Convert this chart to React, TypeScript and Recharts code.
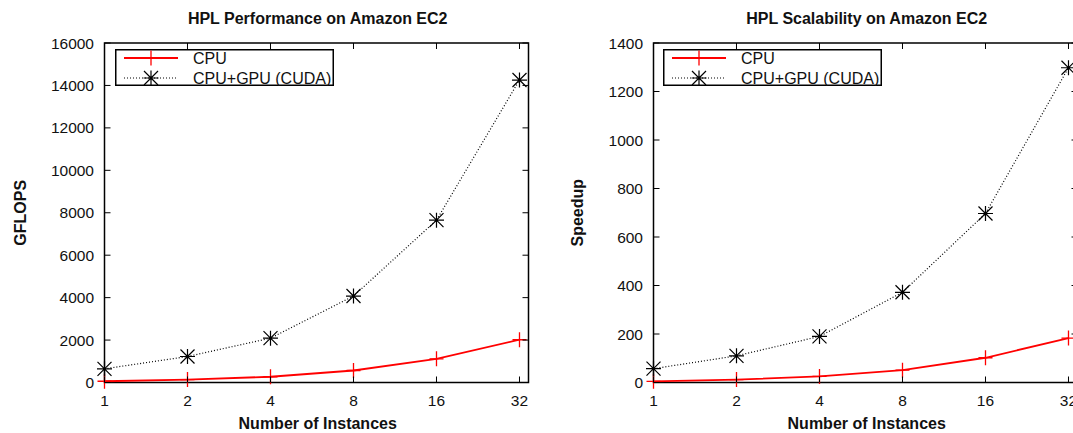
import { LineChart, Line, XAxis, YAxis, ReferenceArea, Legend } from 'recharts';

const INSTANCES = [1, 2, 4, 8, 16, 32];
const CPU_GFLOPS = [60, 140, 270, 565, 1115, 2015];
const GPU_GFLOPS = [645, 1225, 2090, 4075, 7650, 14255];
const CPU_SPEEDUP = [5, 12, 25, 51, 102, 183];
const GPU_SPEEDUP = [57, 110, 190, 372, 697, 1298];
const GFLOPS_TICKS = [0, 2000, 4000, 6000, 8000, 10000, 12000, 14000, 16000];
const SPEEDUP_TICKS = [0, 200, 400, 600, 800, 1000, 1200, 1400];
const X_MAX = 34.5;

const FONT = '"Liberation Sans", Arial, Helvetica, sans-serif';
const TEXT = '#111';
const RED = '#ff0000';

// panel geometry (same for both panels)
const CHART_W = 545;
const CHART_H = 433;
const PLOT_LEFT = 104.5;
const PLOT_TOP = 43;
const PLOT_W = 424;
const PLOT_H = 339.5;
const PLOT_RIGHT = PLOT_LEFT + PLOT_W;
const TICK_LEN = 6;
const CENTER_X = 317.7;

function PlusDot(props: any) {
  const { cx, cy, index } = props;
  if (cx == null || cy == null) return null;
  return (
    <path
      key={`cpu-${index}`}
      d={`M${cx - 7},${cy}H${cx + 7}M${cx},${cy - 7.5}V${cy + 7.5}`}
      stroke={RED}
      strokeWidth={1.3}
      fill="none"
    />
  );
}

function StarDot(props: any) {
  const { cx, cy, index } = props;
  if (cx == null || cy == null) return null;
  return (
    <path
      key={`gpu-${index}`}
      d={`M${cx - 7.5},${cy}H${cx + 7.5}M${cx},${cy - 7.5}V${cy + 7.5}M${cx - 7},${cy - 7}L${cx + 7},${cy + 7}M${cx - 7},${cy + 7}L${cx + 7},${cy - 7}`}
      stroke="#000"
      strokeWidth={1.2}
      fill="none"
    />
  );
}

function XTick(props: any) {
  const { x, y, payload } = props;
  return (
    <g>
      <line x1={x} y1={y} x2={x} y2={y - TICK_LEN} stroke="#000" strokeWidth={1} />
      <line x1={x} y1={PLOT_TOP} x2={x} y2={PLOT_TOP + TICK_LEN} stroke="#000" strokeWidth={1} />
      <text x={x} y={y + 23} textAnchor="middle" fontFamily={FONT} fontSize={15.5} fill={TEXT}>
        {payload.value}
      </text>
    </g>
  );
}

function YTick(props: any) {
  const { x, y, payload } = props;
  return (
    <g>
      <line x1={x} y1={y} x2={x + TICK_LEN} y2={y} stroke="#000" strokeWidth={1} />
      <line x1={PLOT_RIGHT} y1={y} x2={PLOT_RIGHT - TICK_LEN} y2={y} stroke="#000" strokeWidth={1} />
      <text x={x - 10.5} y={y + 5.5} textAnchor="end" fontFamily={FONT} fontSize={15.5} fill={TEXT}>
        {payload.value}
      </text>
    </g>
  );
}

function LegendBox() {
  return (
    <svg width={219} height={37} style={{ display: 'block' }}>
      <rect x={0.75} y={0.75} width={217.5} height={35.5} fill="#fff" stroke="#000" strokeWidth={1.5} />
      <line x1={9} y1={9} x2={63} y2={9} stroke={RED} strokeWidth={1.8} />
      <PlusDot cx={36} cy={9} index="legend" />
      <text x={78} y={14.5} fontFamily={FONT} fontSize={16} fill={TEXT}>CPU</text>
      <line x1={9} y1={29} x2={63} y2={29} stroke="#000" strokeWidth={1.2} strokeDasharray="1 2" />
      <StarDot cx={36} cy={29} index="legend" />
      <text x={78} y={34.5} fontFamily={FONT} fontSize={16} fill={TEXT}>CPU+GPU (CUDA)</text>
    </svg>
  );
}

function Panel({ left, title, yLabel, yLabelX, cpu, gpu, yTicks }: {
  left: number;
  title: string;
  yLabel: string;
  yLabelX: number;
  cpu: number[];
  gpu: number[];
  yTicks: number[];
}) {
  const data = INSTANCES.map((n, i) => ({ n, cpu: cpu[i], gpu: gpu[i] }));
  const yMax = yTicks[yTicks.length - 1];
  const midY = PLOT_TOP + PLOT_H / 2;

  return (
    <div style={{ position: 'absolute', left, top: 0, width: CHART_W, height: CHART_H }}>
      <LineChart
        width={CHART_W}
        height={CHART_H}
        data={data}
        margin={{ top: PLOT_TOP, right: CHART_W - PLOT_RIGHT, bottom: 20.5, left: PLOT_LEFT - 60 }}
      >
        <XAxis
          dataKey="n"
          type="number"
          scale="log"
          domain={[1, X_MAX]}
          ticks={INSTANCES}
          interval={0}
          height={30}
          axisLine={false}
          tickLine={false}
          tickSize={0}
          tickMargin={0}
          tick={XTick}
        />
        <YAxis
          type="number"
          domain={[0, yMax]}
          ticks={yTicks}
          interval={0}
          width={60}
          axisLine={false}
          tickLine={false}
          tickSize={0}
          tickMargin={0}
          tick={YTick}
        />
        <ReferenceArea x1={1} x2={X_MAX} y1={0} y2={yMax} fill="none" fillOpacity={0} stroke="#000" strokeWidth={1.5} />
        <Line
          dataKey="cpu"
          name="CPU"
          type="linear"
          stroke={RED}
          strokeWidth={1.8}
          dot={PlusDot}
          activeDot={false}
          isAnimationActive={false}
        />
        <Line
          dataKey="gpu"
          name="CPU+GPU (CUDA)"
          type="linear"
          stroke="#000"
          strokeWidth={1.2}
          strokeDasharray="1 2"
          dot={StarDot}
          activeDot={false}
          isAnimationActive={false}
        />
        <Legend
          layout="vertical"
          align="center"
          verticalAlign="middle"
          wrapperStyle={{ left: 114.5, top: 49, width: 219, height: 37 }}
          content={() => <LegendBox />}
        />
      </LineChart>
      <svg
        width={CHART_W}
        height={CHART_H}
        style={{ position: 'absolute', left: 0, top: 0, pointerEvents: 'none' }}
      >
        <text x={CENTER_X} y={24} textAnchor="middle" fontFamily={FONT} fontSize={16} fontWeight="bold" fill={TEXT}>
          {title}
        </text>
        <text x={CENTER_X} y={429} textAnchor="middle" fontFamily={FONT} fontSize={16} fontWeight="bold" fill={TEXT}>
          Number of Instances
        </text>
        <text
          x={yLabelX}
          y={midY}
          transform={`rotate(-90, ${yLabelX}, ${midY})`}
          textAnchor="middle"
          fontFamily={FONT}
          fontSize={16}
          fontWeight="bold"
          fill={TEXT}
        >
          {yLabel}
        </text>
      </svg>
    </div>
  );
}

export default function App() {
  return (
    <div style={{ position: 'relative', width: 1073, height: 433, overflow: 'hidden', background: '#fff' }}>
      <style>{'body{margin:0}'}</style>
      <Panel
        left={0}
        title="HPL Performance on Amazon EC2"
        yLabel="GFLOPS"
        yLabelX={25.8}
        cpu={CPU_GFLOPS}
        gpu={GPU_GFLOPS}
        yTicks={GFLOPS_TICKS}
      />
      <Panel
        left={548.5}
        title="HPL Scalability on Amazon EC2"
        yLabel="Speedup"
        yLabelX={34}
        cpu={CPU_SPEEDUP}
        gpu={GPU_SPEEDUP}
        yTicks={SPEEDUP_TICKS}
      />
    </div>
  );
}
